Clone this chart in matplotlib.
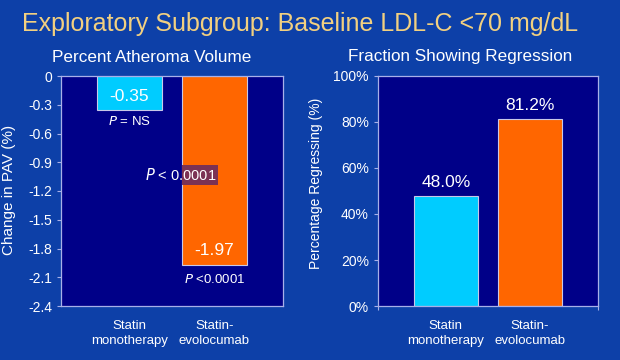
import matplotlib
matplotlib.use('Agg')
import matplotlib.pyplot as plt

# data
categories = ['Statin\nmonotherapy', 'Statin-\nevolocumab']
pav_change = [-0.35, -1.97]
pav_labels = ['-0.35', '-1.97']
pav_ticks = [0, -0.3, -0.6, -0.9, -1.2, -1.5, -1.8, -2.1, -2.4]
pav_ticklabels = ['0', '-0.3', '-0.6', '-0.9', '-1.2', '-1.5', '-1.8', '-2.1', '-2.4']
regress_pct = [48.0, 81.2]
regress_ticks = [0, 20, 40, 60, 80, 100]

bg = '#0d40a8'
navy = '#000088'
cyan = '#00ccff'
orange = '#ff6600'
frame = '#a8b0e8'
colors = [cyan, orange]

plt.rcParams['font.family'] = ['Liberation Sans', 'DejaVu Sans']

fig = plt.figure(figsize=(6.2, 3.6), dpi=100, facecolor=bg)
W, H = 620, 360

fig.text(22 / W, 1 - 24 / H, 'Exploratory Subgroup: Baseline LDL-C <70 mg/dL',
         color='#f2d080', fontsize=18, va='center', ha='left')
fig.text(152 / W, 1 - 57 / H, 'Percent Atheroma Volume', color='white',
         fontsize=12.3, ha='center', va='center')
fig.text(460 / W, 1 - 57 / H, 'Fraction Showing Regression', color='white',
         fontsize=12.3, ha='center', va='center')

ax1 = fig.add_axes([61 / W, 1 - 306 / H, 222 / W, 230 / H])
ax2 = fig.add_axes([378 / W, 1 - 306 / H, 220 / W, 230 / H])

x = [0, 1]
for ax in (ax1, ax2):
    ax.set_facecolor(navy)
    for s in ax.spines.values():
        s.set_color(frame)
        s.set_linewidth(0.9)
    ax.set_xlim(-0.806, 1.806)
    ax.tick_params(axis='y', colors=frame, labelcolor='white', labelsize=10,
                   length=3, width=0.8)

# left chart
bars1 = ax1.bar(x, pav_change, width=0.765, color=colors, edgecolor='#c8c8e8', linewidth=0.8)
ax1.set_ylim(-2.4, 0)
ax1.set_yticks(pav_ticks)
ax1.set_yticklabels(pav_ticklabels)
ax1.set_xticks([])
ax1.set_ylabel('Change in PAV (%)', color='white', fontsize=11)
ax1.yaxis.set_label_coords(-0.203, 0.504)
ax1.text(0, pav_change[0] * 0.6, pav_labels[0], color='white', fontsize=12.5, ha='center', va='center')
ax1.text(1, pav_change[1] + 0.15, pav_labels[1], color='white', fontsize=12.5, ha='center', va='center')
ax1.text(0, pav_change[0] - 0.12, '$P$ = NS', color='white', fontsize=9.5, ha='center', va='center')
ax1.text(1, pav_change[1] - 0.15, '$P$ <0.0001', color='white', fontsize=9.5, ha='center', va='center')
t = ax1.text(0.18, -1.033, '$P$ < 0.0001', color='white', fontsize=10.5, ha='left', va='center',
             bbox=dict(facecolor='#7b3254', edgecolor='none', pad=1.5))
bp = t.get_bbox_patch()
bp.set_clip_path(bars1[1])
bp.set_clip_on(True)
for i, c in enumerate(categories):
    ax1.text(x[i], -0.12, c, transform=ax1.get_xaxis_transform(), color='white',
             fontsize=9.5, ha='center', va='center', linespacing=1.25)

# right chart
ax2.bar(x, regress_pct, width=0.765, color=colors, edgecolor='#c8c8e8', linewidth=0.8)
ax2.set_ylim(0, 100)
ax2.set_yticks(regress_ticks)
ax2.set_yticklabels([f'{v}%' for v in regress_ticks])
ax2.set_xticks([-0.806, 1.806])
ax2.set_xticklabels(['', ''])
ax2.tick_params(axis='x', colors=frame, length=3, width=0.8)
ax2.set_ylabel('Percentage Regressing (%)', color='white', fontsize=10)
ax2.yaxis.set_label_coords(-0.25, 0.535)
for i, v in enumerate(regress_pct):
    ax2.text(x[i], v + 5.8, f'{v:.1f}%', color='white', fontsize=12.5, ha='center', va='center')
for i, c in enumerate(categories):
    ax2.text(x[i], -0.12, c, transform=ax2.get_xaxis_transform(), color='white',
             fontsize=9.5, ha='center', va='center', linespacing=1.25)

fig.savefig('out.png', dpi=100, facecolor=bg)
